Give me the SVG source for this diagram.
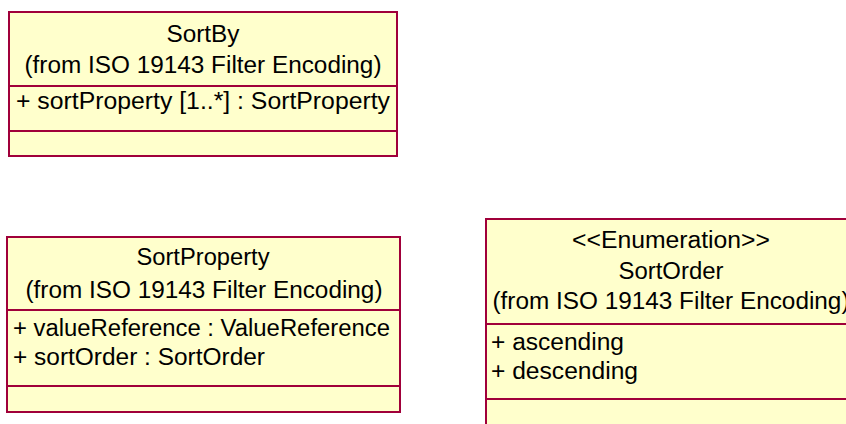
<svg xmlns="http://www.w3.org/2000/svg" width="846" height="424" viewBox="0 0 846 424">
<style>
.box{fill:#FFFFCC;stroke:#A0003A;stroke-width:2}
.sep{stroke:#A0003A;stroke-width:2}
text{font-family:"Liberation Sans",Arial,sans-serif;font-size:23.5px;fill:#000}
.c{text-anchor:middle}
</style>
<rect width="846" height="424" fill="#fff"/>
<g id="SortBy">
<rect class="box" x="9" y="12" width="388" height="144"/>
<line class="sep" x1="9" y1="86" x2="397" y2="86"/>
<line class="sep" x1="9" y1="131" x2="397" y2="131"/>
<text class="c" x="203" y="42" textLength="73" lengthAdjust="spacingAndGlyphs">SortBy</text>
<text class="c" x="203" y="73" textLength="357" lengthAdjust="spacingAndGlyphs">(from ISO 19143 Filter Encoding)</text>
<text x="16" y="109" textLength="374" lengthAdjust="spacingAndGlyphs">+ sortProperty [1..*] : SortProperty</text>
</g>
<g id="SortProperty">
<rect class="box" x="7" y="237" width="393" height="175"/>
<line class="sep" x1="7" y1="310" x2="400" y2="310"/>
<line class="sep" x1="7" y1="386" x2="400" y2="386"/>
<text class="c" x="203" y="265" textLength="133" lengthAdjust="spacingAndGlyphs">SortProperty</text>
<text class="c" x="204" y="298" textLength="357" lengthAdjust="spacingAndGlyphs">(from ISO 19143 Filter Encoding)</text>
<text x="13" y="336" textLength="377" lengthAdjust="spacingAndGlyphs">+ valueReference : ValueReference</text>
<text x="13" y="365" textLength="252" lengthAdjust="spacingAndGlyphs">+ sortOrder : SortOrder</text>
</g>
<g id="SortOrder">
<rect class="box" x="486" y="219" width="370" height="220"/>
<line class="sep" x1="486" y1="324" x2="856" y2="324"/>
<line class="sep" x1="486" y1="399" x2="856" y2="399"/>
<text class="c" x="671" y="248" textLength="198" lengthAdjust="spacingAndGlyphs">&lt;&lt;Enumeration&gt;&gt;</text>
<text class="c" x="671" y="279" textLength="105" lengthAdjust="spacingAndGlyphs">SortOrder</text>
<text class="c" x="671" y="309" textLength="357" lengthAdjust="spacingAndGlyphs">(from ISO 19143 Filter Encoding)</text>
<text x="491" y="350" textLength="133" lengthAdjust="spacingAndGlyphs">+ ascending</text>
<text x="491" y="379" textLength="147" lengthAdjust="spacingAndGlyphs">+ descending</text>
</g>
<g id="connectors"></g>
</svg>
